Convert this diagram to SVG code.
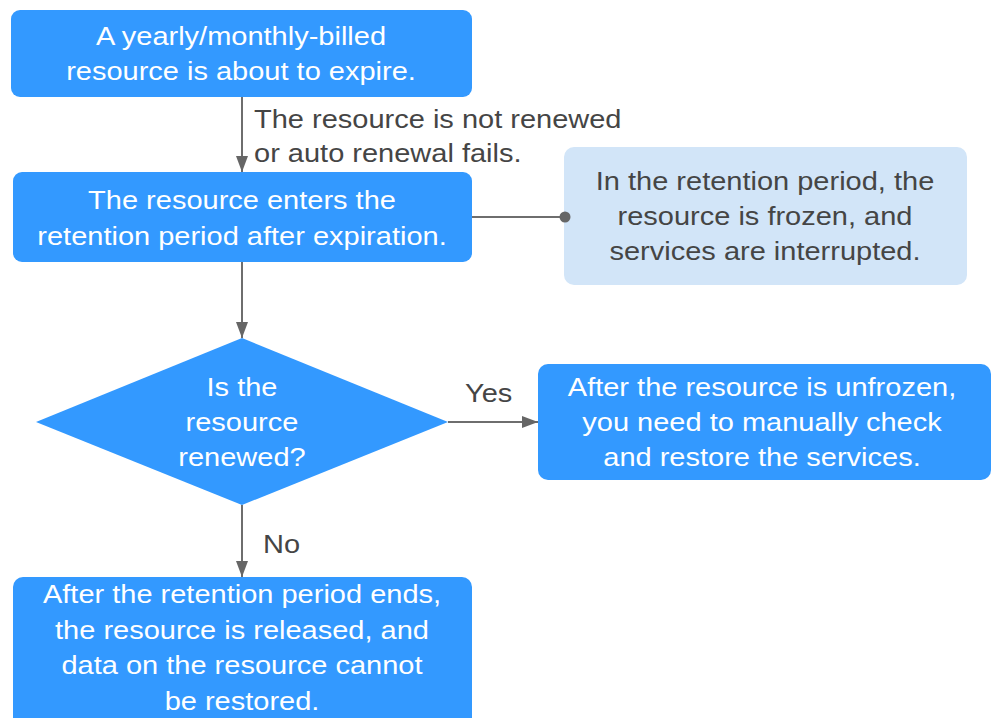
<svg xmlns="http://www.w3.org/2000/svg" width="993" height="718" viewBox="0 0 993 718">
  <defs>
    <marker id="arrow" viewBox="0 0 16 12" refX="16" refY="6" markerWidth="16" markerHeight="12" markerUnits="userSpaceOnUse" orient="auto">
      <path d="M0,0 L16,6 L0,12 Z" fill="#666666"/>
    </marker>
    <style>
      .box { fill: #3399ff; }
      .note { fill: #d2e5f8; }
      .t { font-family: "Liberation Sans", Arial, sans-serif; font-size: 26.5px; }
      .w { fill: #ffffff; text-anchor: middle; }
      .g { fill: #454545; }
      .gc { fill: #454545; text-anchor: middle; }
      .link { stroke: #6e6e6e; stroke-width: 2; fill: none; }
    </style>
  </defs>

  <rect width="993" height="718" fill="#ffffff"/>

  <!-- start -->
  <g id="node-expire">
    <rect class="box" x="11" y="10" width="461" height="87" rx="9"/>
    <text class="t w" transform="translate(241,45) scale(1.095,1)">A yearly/monthly-billed</text>
    <text class="t w" transform="translate(241,80) scale(1.095,1)">resource is about to expire.</text>
  </g>

  <g id="node-retention">
    <rect class="box" x="13" y="172" width="459" height="90" rx="9"/>
    <text class="t w" transform="translate(242,209) scale(1.095,1)">The resource enters the</text>
    <text class="t w" transform="translate(242,245) scale(1.095,1)">retention period after expiration.</text>
  </g>

  <g id="node-frozen-note">
    <rect class="note" x="564" y="147" width="403" height="138" rx="10"/>
    <text class="t gc" transform="translate(765,190) scale(1.095,1)">In the retention period, the</text>
    <text class="t gc" transform="translate(765,225) scale(1.095,1)">resource is frozen, and</text>
    <text class="t gc" transform="translate(765,260) scale(1.095,1)">services are interrupted.</text>
  </g>

  <g id="node-renewed-decision">
    <polygon class="box" points="242,338 448,422 242,505 36,422"/>
    <text class="t w" transform="translate(242,396) scale(1.095,1)">Is the</text>
    <text class="t w" transform="translate(242,431) scale(1.095,1)">resource</text>
    <text class="t w" transform="translate(242,466) scale(1.095,1)">renewed?</text>
  </g>

  <g id="node-restore">
    <rect class="box" x="538" y="364" width="453" height="116" rx="10"/>
    <text class="t w" transform="translate(762,396) scale(1.095,1)">After the resource is unfrozen,</text>
    <text class="t w" transform="translate(762,431) scale(1.095,1)">you need to manually check</text>
    <text class="t w" transform="translate(762,466) scale(1.095,1)">and restore the services.</text>
  </g>

  <g id="node-released">
    <rect class="box" x="13" y="577" width="459" height="160" rx="10"/>
    <text class="t w" transform="translate(242,603) scale(1.095,1)">After the retention period ends,</text>
    <text class="t w" transform="translate(242,639) scale(1.095,1)">the resource is released, and</text>
    <text class="t w" transform="translate(242,674) scale(1.095,1)">data on the resource cannot</text>
    <text class="t w" transform="translate(242,710) scale(1.095,1)">be restored.</text>
  </g>

  <!-- connectors, drawn last so the note's dot sits on top of its edge -->
  <g id="connectors">
    <line class="link" x1="242" y1="97" x2="242" y2="172" marker-end="url(#arrow)"/>
    <line class="link" x1="242" y1="262" x2="242" y2="338" marker-end="url(#arrow)"/>
    <line class="link" x1="448" y1="422" x2="538" y2="422" marker-end="url(#arrow)"/>
    <line class="link" x1="242" y1="505" x2="242" y2="577" marker-end="url(#arrow)"/>
    <line class="link" x1="472" y1="217" x2="565" y2="217"/>
    <circle cx="565" cy="217" r="5.5" fill="#666666"/>
    <text class="t g" transform="translate(254,128) scale(1.095,1)">The resource is not renewed</text>
    <text class="t g" transform="translate(254,162) scale(1.095,1)">or auto renewal fails.</text>
    <text class="t g" transform="translate(465,402) scale(1.095,1)">Yes</text>
    <text class="t g" transform="translate(263,553) scale(1.095,1)">No</text>
  </g>
</svg>
